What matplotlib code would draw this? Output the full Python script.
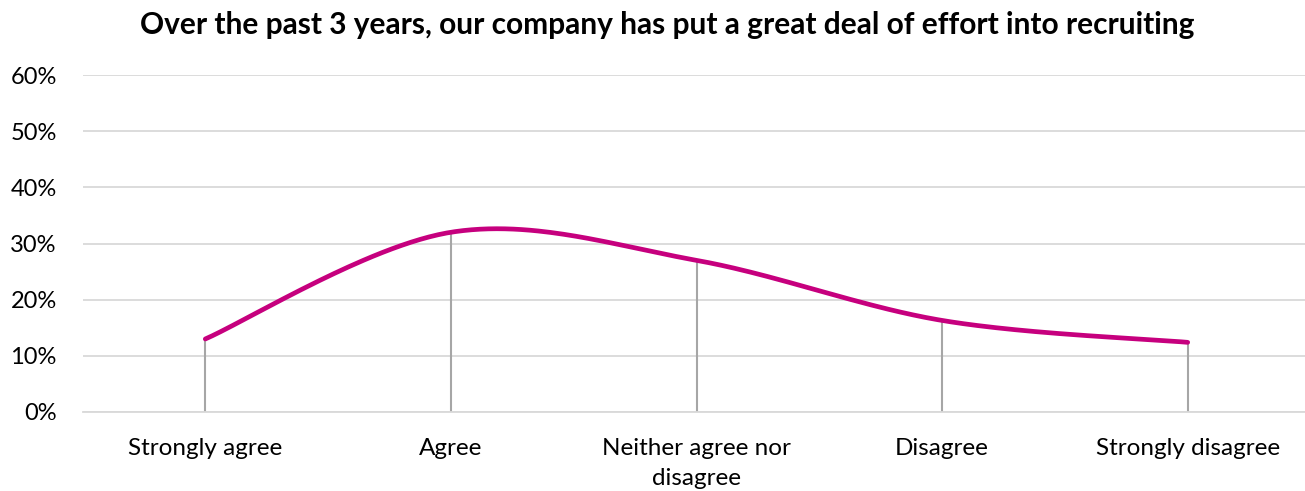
import numpy as np
import matplotlib
matplotlib.use('Agg')
import matplotlib.pyplot as plt
from matplotlib.ticker import FuncFormatter

# ── Data ──────────────────────────────────────────────────────────────────────
categories = ['Strongly agree', 'Agree', 'Neither agree nor\ndisagree',
              'Disagree', 'Strongly disagree']
values = [13, 32, 27, 16.3, 12.4]   # percent

title = 'Over the past 3 years, our company has put a great deal of effort into recruiting'

plt.rcParams['font.family'] = ['Lato', 'DejaVu Sans']


# ── Smooth line like Excel (Catmull-Rom via cubic Bezier) ─────────────────────
def smooth(xs, ys, n=60):
    pts = np.column_stack([xs, ys]).astype(float)
    ext = np.vstack([pts[0], pts, pts[-1]])
    out = []
    for i in range(len(pts) - 1):
        p0, p1, p2, p3 = ext[i], ext[i + 1], ext[i + 2], ext[i + 3]
        c1 = p1 + (p2 - p0) / 6
        c2 = p2 - (p3 - p1) / 6
        t = np.linspace(0, 1, n)[:, None]
        seg = ((1 - t) ** 3) * p1 + 3 * ((1 - t) ** 2) * t * c1 \
            + 3 * (1 - t) * t ** 2 * c2 + t ** 3 * p2
        out.append(seg if i == 0 else seg[1:])
    out = np.vstack(out)
    return out[:, 0], out[:, 1]


x = np.arange(len(categories))
sx, sy = smooth(x, values)

# ── Plot ──────────────────────────────────────────────────────────────────────
fig = plt.figure(figsize=(13.05, 4.91), dpi=100)
ax = fig.add_axes([82.5 / 1305, 1 - 412 / 491, 1228 / 1305, (412 - 75) / 491])

ax.vlines(x, 0, values, color='#A6A6A6', linewidth=1.5, zorder=2)
ax.plot(sx, sy, color='#C6007E', linewidth=3.4, solid_capstyle='round', zorder=3)

ax.set_xlim(-0.5, len(categories) - 0.5)
ax.set_ylim(0, 60)
ax.set_yticks(range(0, 61, 10))
ax.yaxis.set_major_formatter(FuncFormatter(lambda v, _: f'{int(v)}%'))
ax.set_xticks(x)
ax.set_xticklabels(categories, fontsize=17.5, linespacing=1.5)
ax.tick_params(axis='y', labelsize=17, length=0, pad=18.5)
ax.tick_params(axis='x', length=0, pad=19)

ax.grid(axis='y', color='#D9D9D9', linewidth=1.3, zorder=0)
for s in ['top', 'right', 'left']:
    ax.spines[s].set_visible(False)
ax.spines['bottom'].set_color('#D9D9D9')
ax.spines['bottom'].set_linewidth(1.3)

fig.text(0.511, 0.95, title, ha='center', va='center',
         fontsize=21.5, fontweight='bold', color='black')

plt.savefig('out.png', dpi=100)
